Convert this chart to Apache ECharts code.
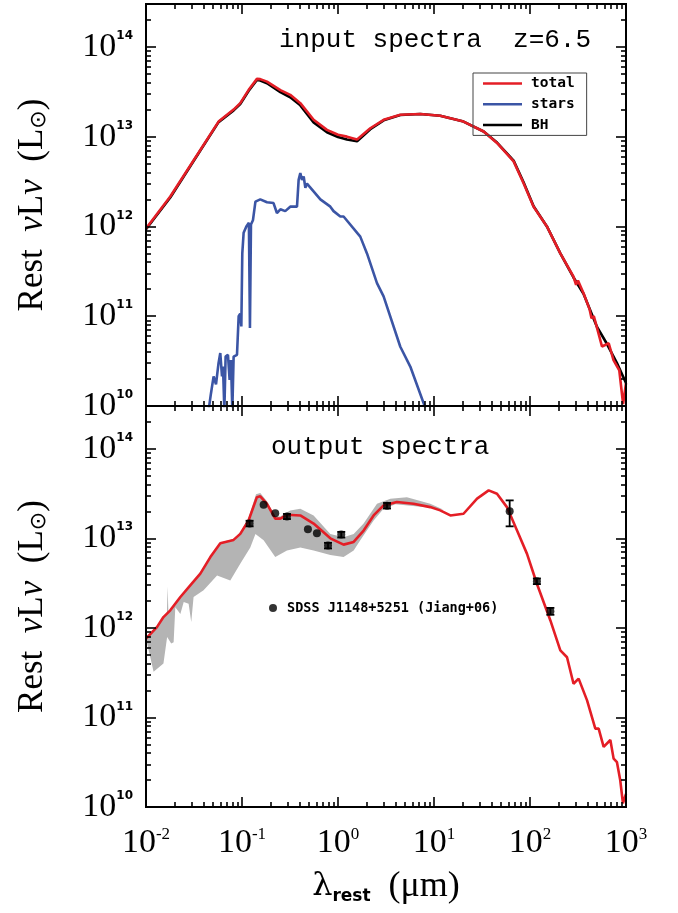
<!DOCTYPE html>
<html><head><meta charset="utf-8">
<script src="https://cdn.jsdelivr.net/npm/echarts@6.0.0/dist/echarts.min.js"></script>
<style>
html,body{margin:0;padding:0;background:#fff}
#wrap{position:relative;width:678px;height:913px}
#c,#t{position:absolute;left:0;top:0;width:678px;height:913px}
#t{pointer-events:none}
</style>
</head><body><div id="wrap"><div id="c"></div><div id="t"></div></div>
<script>
// ---------- axis ranges ----------
const xRange = [0.01, 1000];
const yRange = [1e10, 3e14];

// ---------- top panel: input spectra ----------
const totalX = [0.01,0.0179,0.0368,0.057,0.0818,0.0959,0.117,0.143,0.155,0.182,0.251,0.318,0.405,0.557,0.767,1.0,1.24,1.58,2.17,2.99,4.46,7.19,11.6,20.3,32.9,45.3,67.5,85.7,109,150,207,284,302,316,361,417,437,462,499,562,661,741,851,933,1000];
const totalY = [9.5e11,2.15e12,7.1e12,1.47e13,2.0e13,2.36e13,3.3e13,4.4e13,4.37e13,4.1e13,3.3e13,2.92e13,2.36e13,1.54e13,1.19e13,1.05e13,1.0e13,9.3e12,1.24e13,1.54e13,1.75e13,1.79e13,1.71e13,1.47e13,1.14e13,8.5e12,5.3e12,3.03e12,1.66e12,1.0e12,5.0e11,2.75e11,2.24e11,2.5e11,1.8e11,1.2e11,9.5e10,1.0e11,7.4e10,4.6e10,5.0e10,3.24e10,2.5e10,1.05e10,1.8e10];

const bhX = [0.01,0.0179,0.0368,0.057,0.0818,0.0959,0.117,0.143,0.155,0.182,0.251,0.318,0.405,0.557,0.767,1.0,1.24,1.58,2.17,2.99,4.46,7.19,11.6,20.3,32.9,45.3,67.5,85.7,109,150,207,284,361,499,634,805,1000];
const bhY = [9.3e11,2.1e12,7.0e12,1.45e13,1.96e13,2.31e13,3.22e13,4.27e13,4.22e13,3.93e13,3.13e13,2.74e13,2.23e13,1.44e13,1.12e13,9.9e12,9.3e12,8.9e12,1.21e13,1.52e13,1.74e13,1.79e13,1.71e13,1.47e13,1.14e13,8.6e12,5.4e12,3.1e12,1.68e12,1.0e12,5.0e11,2.7e11,1.78e11,7.6e10,4.9e10,3.0e10,1.8e10];

const starsX = [0.0449,0.0475,0.0506,0.0536,0.057,0.0594,0.0619,0.0634,0.0655,0.0675,0.0714,0.0743,0.0767,0.0793,0.0818,0.0887,0.0923,0.0959,0.0984,0.1007,0.104,0.111,0.118,0.121,0.124,0.130,0.138,0.155,0.182,0.213,0.231,0.251,0.282,0.318,0.374,0.389,0.405,0.422,0.439,0.457,0.475,0.655,0.832,0.899,1.057,1.143,1.706,2.004,2.547,2.985,4.457,5.662,8.128];
const starsY = [9e9,1.38e10,2.14e10,1.74e10,3.02e10,3.89e10,2.14e10,2.75e10,9e9,3.55e10,3.72e10,1.95e10,3.24e10,9e9,3.55e10,3.72e10,1.0e11,1.07e11,7.7e10,5.0e11,8.5e11,1.0e12,1.1e12,7.4e10,1.05e12,1.17e12,1.89e12,2.0e12,1.86e12,1.82e12,1.41e12,1.55e12,1.48e12,1.66e12,1.66e12,3.3e12,3.93e12,3.3e12,3.6e12,2.7e12,3.0e12,2.0e12,1.66e12,1.48e12,1.29e12,1.29e12,7.7e11,5.0e11,2.34e11,1.66e11,4.57e10,2.75e10,9.5e9];

// ---------- bottom panel: output spectra ----------
const outX = [0.01,0.013,0.0152,0.0179,0.0228,0.0289,0.0368,0.0468,0.0594,0.0817,0.0959,0.117,0.143,0.155,0.182,0.222,0.251,0.294,0.405,0.557,0.832,1.143,1.456,1.849,2.35,2.985,4.10,6.12,9.14,11.6,14.8,20.3,28.1,37.1,45.3,57.5,73.3,93.1,118,163,207,243,284,321,393,479,519,585,687,743,805,871,929,1000];
const outY = [7.6e11,1.02e12,1.32e12,1.57e12,2.21e12,2.98e12,4.03e12,6.17e12,8.8e12,9.6e12,1.12e13,1.58e13,2.88e13,2.94e13,2.43e13,1.66e13,1.66e13,1.83e13,1.80e13,1.46e13,1.0e13,8.5e12,9.1e12,1.22e13,1.80e13,2.33e13,2.54e13,2.43e13,2.23e13,2.05e13,1.80e13,1.88e13,2.77e13,3.43e13,3.15e13,2.23e13,1.22e13,6.7e12,3.11e12,1.21e12,5.6e11,4.7e11,2.38e11,2.71e11,1.55e11,7.5e10,7.5e10,4.7e10,5.6e10,3.47e10,3.16e10,1.99e10,1.1e10,1.4e10];

const bandUpperX = [0.01,0.013,0.0165,0.0168,0.0171,0.0179,0.0228,0.0289,0.0368,0.0468,0.0594,0.0817,0.0959,0.117,0.140,0.155,0.182,0.222,0.251,0.294,0.318,0.405,0.557,0.832,1.143,1.456,1.849,2.547,3.51,5.22,9.14,12.6];
const bandUpperY = [8.0e11,1.05e12,1.45e12,2.9e12,1.5e12,1.58e12,2.25e12,3.0e12,4.1e12,6.3e12,9.0e12,9.8e12,1.15e13,1.7e13,3.1e13,3.2e13,2.6e13,1.75e13,1.75e13,1.95e13,2.04e13,2.14e13,1.80e13,1.12e13,1.03e13,1.12e13,1.46e13,2.43e13,2.77e13,2.88e13,2.43e13,2.09e13];
const bandLowerX = [0.01,0.012,0.0152,0.0166,0.0183,0.0194,0.0202,0.0228,0.0247,0.0278,0.0296,0.0313,0.0398,0.055,0.0755,0.0959,0.122,0.138,0.168,0.222,0.294,0.405,0.557,0.832,1.143,1.456,1.706,2.35,2.985,3.98,9.14,12.6];
const bandLowerY = [7.6e11,3.24e11,4.0e11,7.9e11,6.7e11,6.9e11,1.7e12,1.43e12,1.95e12,1.86e12,1.16e12,2.21e12,2.63e12,3.85e12,3.39e12,5.2e12,7.9e12,1.12e13,9.5e12,6.2e12,7.3e12,7.9e12,7.3e12,6.5e12,6.2e12,7.3e12,9.5e12,1.58e13,2.14e13,2.4e13,2.2e13,2.09e13];

const obsX = [0.120,0.168,0.222,0.294,0.486,0.603,0.787,1.081,3.24,61.4,118,163];
const obsY = [1.46e13,2.37e13,1.91e13,1.75e13,1.26e13,1.14e13,8.3e12,1.10e13,2.31e13,2.0e13,3.31e12,1.53e12];
const obsLo = [1.36e13,null,null,1.64e13,null,null,7.7e12,1.02e13,2.15e13,1.36e13,3.08e12,1.40e12];
const obsHi = [1.57e13,null,null,1.87e13,null,null,8.9e12,1.18e13,2.48e13,2.65e13,3.56e12,1.67e12];

const pairs = (xs, ys) => xs.map((x, i) => [x, ys[i]]);
const expOf = v => Math.round(Math.log10(v));
const isPow10 = v => Math.abs(Math.log10(v) - expOf(v)) < 1e-6;

const RED = '#e41e26', BLUE = '#3b55a5', GREY = '#b4b4b4';
const SERIF = 'Liberation Serif';
const grids = [
  { left: 146, right: 52, top: 4, height: 402, outerBoundsMode: 'none' },
  { left: 146, right: 52, top: 406, height: 401, outerBoundsMode: 'none' }
];

// axis skeleton; withTicks: frame layer (frame + ticks), otherwise label/data layer
function baseAxis(isX, grid, pos, withTicks) {
  return {
    type: 'log', logBase: 10, gridIndex: grid, position: pos,
    min: isX ? xRange[0] : yRange[0], max: isX ? xRange[1] : yRange[1],
    axisLine: { show: true, onZero: false, lineStyle: { color: '#000', width: 2 } },
    axisTick: { show: withTicks, inside: true, length: 10, lineStyle: { color: '#000', width: 1.6 } },
    minorTick: { show: withTicks, splitNumber: 9, length: 5, lineStyle: { color: '#000', width: 1.6 } },
    splitLine: { show: false },
    axisLabel: { show: false }
  };
}
function xAx(grid, pos, labels) {
  const a = baseAxis(true, grid, pos, false);
  if (labels) {
    a.axisLabel = { show: true, margin: 19,
      formatter: v => isPow10(v) ? '{b|10}{s|' + expOf(v) + '}' : '',
      rich: { b: { fontFamily: SERIF, fontSize: 34, color: '#000' },
              s: { fontFamily: SERIF, fontSize: 17, color: '#000', verticalAlign: 'top' } } };
    a.name = '{l|λ}{s|rest}{p|  (μm)}';
    a.nameLocation = 'middle';
    a.nameGap = 62;
    a.nameTextStyle = { rich: {
      l: { fontFamily: 'DejaVu Serif', fontSize: 32, color: '#000' },
      s: { fontFamily: 'DejaVu Sans', fontWeight: 'bold', fontSize: 17, color: '#000', verticalAlign: 'bottom' },
      p: { fontFamily: SERIF, fontSize: 36, color: '#000' } } };
  }
  return a;
}
function yAx(grid, pos, labels) {
  const a = baseAxis(false, grid, pos, false);
  if (labels) {
    a.axisLabel = { show: true, margin: 13,
      formatter: v => isPow10(v) ? '{b|10}{s|' + expOf(v) + '}' : '',
      rich: { b: { fontFamily: SERIF, fontSize: 34, color: '#000' },
              s: { fontFamily: 'DejaVu Sans', fontWeight: 'bold', fontSize: 12, color: '#000', verticalAlign: 'top' } } };
    a.name = 'Rest  {i|ν}L{i|ν}  (L{o|⊙})';
    a.nameLocation = 'middle';
    a.nameGap = 96;
    a.nameTextStyle = { fontFamily: SERIF, fontSize: 35, color: '#000',
      rich: { i: { fontFamily: SERIF, fontStyle: 'italic', fontSize: 35, color: '#000' },
              o: { fontFamily: 'DejaVu Sans', fontSize: 22, color: '#000', verticalAlign: 'bottom' } } };
  }
  return a;
}

const errData = [];
obsX.forEach((x, i) => { if (obsLo[i] != null) errData.push([x, obsLo[i], obsHi[i]]); });

const lineS = (name, xs, ys, color, xi, z) => ({
  name, type: 'line', xAxisIndex: xi, yAxisIndex: xi, data: pairs(xs, ys),
  showSymbol: false, symbol: 'none', color, lineStyle: { color, width: 2.6 }, itemStyle: { color },
  clip: true, z, silent: true
});

// ---------- main layer: labels, titles, legends, data ----------
const option = {
  animation: false,
  grid: grids,
  title: [
    { text: 'input spectra  z=6.5', left: 279, top: 27, padding: 0,
      textStyle: { fontFamily: 'Liberation Mono', fontSize: 26, fontWeight: 'normal', color: '#000' } },
    { text: 'output spectra', left: 271, top: 434, padding: 0,
      textStyle: { fontFamily: 'Liberation Mono', fontSize: 26, fontWeight: 'normal', color: '#000' } }
  ],
  legend: [
    { data: ['total', 'stars', 'BH'], orient: 'vertical', left: 473, top: 73, icon: 'rect',
      itemWidth: 39, itemHeight: 2.5, itemGap: 5.7, padding: [3, 12, 3, 10],
      borderColor: '#444', borderWidth: 1, selectedMode: false,
      textStyle: { fontFamily: 'DejaVu Sans Mono', fontWeight: 'bold', fontSize: 14.5, lineHeight: 14, color: '#000', padding: [0, 0, 0, 4] } },
    { data: [{ name: 'SDSS J1148+5251 (Jiang+06)', icon: 'circle' }], left: 269, top: 601,
      itemWidth: 18, itemHeight: 8, padding: 0, selectedMode: false,
      textStyle: { fontFamily: 'DejaVu Sans Mono', fontWeight: 'bold', fontSize: 13.5, color: '#000' } }
  ],
  xAxis: [xAx(0, 'bottom', false), xAx(0, 'top', false), xAx(1, 'bottom', true), xAx(1, 'top', false)],
  yAxis: [yAx(0, 'left', true), yAx(0, 'right', false), yAx(1, 'left', true), yAx(1, 'right', false)],
  series: [
    lineS('BH', bhX, bhY, '#000', 0, 2),
    lineS('stars', starsX, starsY, BLUE, 0, 2),
    lineS('total', totalX, totalY, RED, 0, 3),
    { name: 'band', type: 'custom', xAxisIndex: 2, yAxisIndex: 2, silent: true, z: 1,
      data: [[bandUpperX[0], bandUpperY[0]]],
      renderItem: function (params, api) {
        const pts = [];
        for (let i = 0; i < bandUpperX.length; i++) pts.push(api.coord([bandUpperX[i], bandUpperY[i]]));
        for (let i = bandLowerX.length - 1; i >= 0; i--) pts.push(api.coord([bandLowerX[i], bandLowerY[i]]));
        return { type: 'polygon', shape: { points: pts }, style: { fill: GREY } };
      } },
    lineS('output', outX, outY, RED, 2, 3),
    { name: 'errors', type: 'custom', xAxisIndex: 2, yAxisIndex: 2, silent: true, z: 4,
      data: errData,
      renderItem: function (params, api) {
        const x = api.value(0);
        const pLo = api.coord([x, api.value(1)]), pHi = api.coord([x, api.value(2)]);
        const w = 4, st = { stroke: '#000', lineWidth: 1.8 };
        return { type: 'group', children: [
          { type: 'line', shape: { x1: pLo[0], y1: pLo[1], x2: pHi[0], y2: pHi[1] }, style: st },
          { type: 'line', shape: { x1: pLo[0] - w, y1: pLo[1], x2: pLo[0] + w, y2: pLo[1] }, style: st },
          { type: 'line', shape: { x1: pHi[0] - w, y1: pHi[1], x2: pHi[0] + w, y2: pHi[1] }, style: st }
        ] };
      } },
    { name: 'SDSS J1148+5251 (Jiang+06)', type: 'scatter', xAxisIndex: 2, yAxisIndex: 2,
      data: pairs(obsX, obsY), symbol: 'circle', symbolSize: 8, color: '#000', itemStyle: { color: '#000' }, z: 5, silent: true }
  ]
};

// ---------- frame layer: axis lines, major and minor ticks on the same grids and scales ----------
const frameOption = {
  animation: false,
  grid: grids,
  xAxis: [baseAxis(true, 0, 'bottom', true), baseAxis(true, 0, 'top', true), baseAxis(true, 1, 'bottom', true), baseAxis(true, 1, 'top', true)],
  yAxis: [baseAxis(false, 0, 'left', true), baseAxis(false, 0, 'right', true), baseAxis(false, 1, 'left', true), baseAxis(false, 1, 'right', true)],
  series: [
    { type: 'line', xAxisIndex: 0, yAxisIndex: 0, data: [], silent: true },
    { type: 'line', xAxisIndex: 2, yAxisIndex: 2, data: [], silent: true }
  ]
};

echarts.init(document.getElementById('c')).setOption(option);
echarts.init(document.getElementById('t')).setOption(frameOption);
</script>
</body></html>
